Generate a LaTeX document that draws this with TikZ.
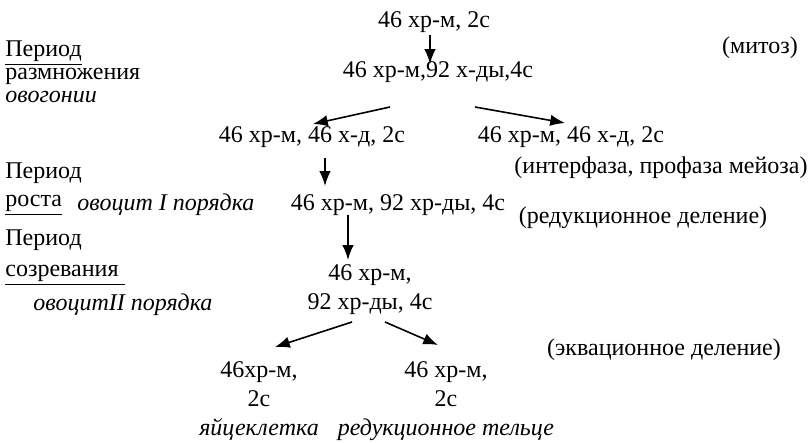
\documentclass[tikz,border=0pt]{standalone}
\usepackage{fontspec}
\setmainfont{Liberation Serif}
\usetikzlibrary{arrows.meta,positioning}

\begin{document}
\begin{tikzpicture}[x=0.5pt,y=-0.5pt,
  txt/.style={inner sep=1pt,font=\rmfamily\fontsize{12}{14.5}\selectfont},
  lbl/.style={txt,anchor=west,align=left},
  note/.style={lbl,font=\rmfamily\fontsize{12}{14.5}\selectfont\itshape},
  arrow/.style={-{Latex[length=2.6mm,width=2mm]},line width=0.8pt}
]
\useasboundingbox (0,0) rectangle (812,443);
% chromosome sets
\node[txt] (oogon) at (434,22) {46 хр-м, 2с};
\node[txt] (oogdiv) at (438,72) {46 хр-м,92 х-ды,4с};
\node[txt] (cellL) at (312,137) {46 хр-м, 46 х-д, 2с};
\node[txt] (cellR) at (571,137) {46 хр-м, 46 х-д, 2с};
\node[txt] (ovo1) at (398,205) {46 хр-м, 92 хр-ды, 4с};
\node[txt,align=center] (ovo2) at (370,290) {46 хр-м,\\92 хр-ды, 4с};
\node[txt,align=center] (egg) at (259,401) {46хр-м,\\2с\\\textit{яйцеклетка}};
\node[txt,align=center] (body) at (446,401) {46 хр-м,\\2с\\\textit{редукционное тельце}};
% periods
\node[lbl,font=\rmfamily\fontsize{12}{11.5}\selectfont] (prd1) at (3,72) {\underline{Период}\\размножения\\\textit{овогонии}};
\node[lbl] (prd2) at (3,173) {Период};
\node[lbl] (grow) at (3,205) {\underline{роста}};
\node[note] (ovo1name) at (75,205) {овоцит I порядка};
\node[lbl] (prd3) at (3,240) {Период};
\node[lbl] (ripe) at (3,275) {\underline{созревания\ }};
\node[note] (ovo2name) at (31,305) {овоцитII порядка};
% processes
\node[txt] (mitosis) at (760,48) {(митоз)};
\node[txt] (interph) at (661,168) {(интерфаза, профаза мейоза)};
\node[txt] (reduct) at (643,218) {(редукционное деление)};
\node[txt] (equat) at (664,350) {(эквационное деление)};
% arrows
\draw[arrow] ([shift={(-4,13)}]oogon.center) -- ([shift={(-8,-8)}]oogdiv.center);
\draw[arrow] ([shift={(-48,35)}]oogdiv.center) -- ([shift={(1,-13)}]cellL.center);
\draw[arrow] ([shift={(37,35)}]oogdiv.center) -- ([shift={(-6,-14)}]cellR.center);
\draw[arrow] ([shift={(13,21)}]cellL.center) -- ([shift={(-73,-19)}]ovo1.center);
\draw[arrow] ([shift={(-50,10)}]ovo1.center) -- ([shift={(-22,-30)}]ovo2.center);
\draw[arrow] ([shift={(-18,32)}]ovo2.center) -- ([shift={(16,-54)}]egg.center);
\draw[arrow] ([shift={(15,32)}]ovo2.center) -- ([shift={(-8,-56)}]body.center);
\end{tikzpicture}
\end{document}
